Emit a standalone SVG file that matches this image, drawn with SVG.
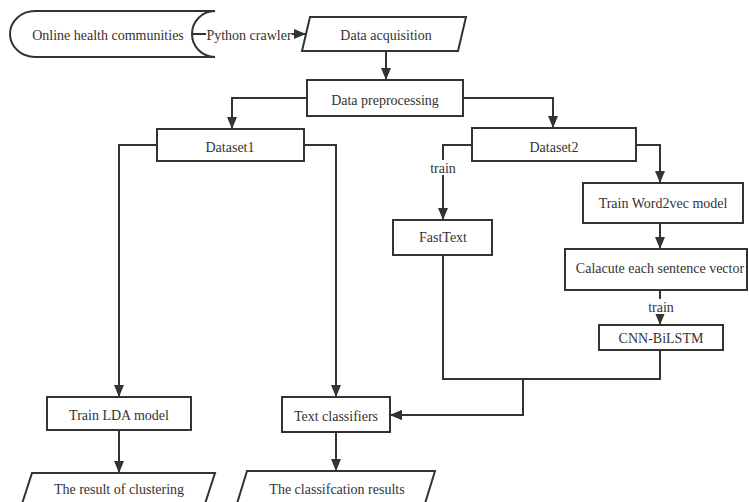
<svg xmlns="http://www.w3.org/2000/svg" width="749" height="502" viewBox="0 0 749 502">
<defs>
<style>
.n{fill:#fff;stroke:#333;stroke-width:2}
text{font-family:'Liberation Serif','Times New Roman',Times,serif;font-size:14px;fill:#333;text-anchor:middle}
.c{fill:none;stroke:#333;stroke-width:2}
.bg{fill:#fff}
</style>
<marker id="ah" viewBox="0 0 12 10" refX="12" refY="5" markerWidth="12" markerHeight="10" markerUnits="userSpaceOnUse" orient="auto">
<path d="M0,0 L12,5 L0,10 z" fill="#333"/>
</marker>
</defs>
<rect width="749" height="502" fill="#fff"/>
<g id="connectors">
<path class="c" d="M193,34 H306" marker-end="url(#ah)"/>
<path class="c" d="M386,51 V80" marker-end="url(#ah)"/>
<path class="c" d="M307,98 H232 V129" marker-end="url(#ah)"/>
<path class="c" d="M463,98 H553 V128" marker-end="url(#ah)"/>
<path class="c" d="M157,145 H119 V397" marker-end="url(#ah)"/>
<path class="c" d="M304,145 H336 V397" marker-end="url(#ah)"/>
<path class="c" d="M472,145 H443 V220" marker-end="url(#ah)"/>
<path class="c" d="M636,145 H660 V183" marker-end="url(#ah)"/>
<path class="c" d="M660,223 V249" marker-end="url(#ah)"/>
<path class="c" d="M660,290 V325" marker-end="url(#ah)"/>
<path class="c" d="M443,255 V379 H523 V415 H390" marker-end="url(#ah)"/>
<path class="c" d="M660,350 V379 H523 V415 H390" marker-end="url(#ah)"/>
<path class="c" d="M119,430 V473" marker-end="url(#ah)"/>
<path class="c" d="M336,432 V471" marker-end="url(#ah)"/>
<rect class="bg" x="206" y="26" width="86" height="17"/>
<text x="249" y="40">Python crawler</text>
<rect class="bg" x="428" y="160" width="30" height="15"/>
<text x="443" y="173">train</text>
<rect class="bg" x="646" y="299" width="30" height="15"/>
<text x="661" y="312">train</text>
</g>
<g id="online-health-communities">
<path class="n" d="M35,11 H215 A23,23 0 0 0 215,57 H35 A25,23 0 0 1 35,11 Z"/>
<text x="108" y="40">Online health communities</text>
</g>
<g id="data-acquisition">
<polygon class="n" points="310,17 466,17 458,51 302,51"/>
<text x="386" y="40">Data acquisition</text>
</g>
<g id="data-preprocessing">
<rect class="n" x="307" y="80" width="156" height="36"/>
<text x="385" y="105">Data preprocessing</text>
</g>
<g id="dataset1">
<rect class="n" x="157" y="129" width="147" height="32"/>
<text x="230" y="152">Dataset1</text>
</g>
<g id="dataset2">
<rect class="n" x="472" y="128" width="164" height="33"/>
<text x="554" y="152">Dataset2</text>
</g>
<g id="fasttext">
<rect class="n" x="393" y="220" width="99" height="35"/>
<text x="443" y="242">FastText</text>
</g>
<g id="train-word2vec">
<rect class="n" x="583" y="183" width="160" height="40"/>
<text x="663" y="208">Train Word2vec model</text>
</g>
<g id="calacute">
<rect class="n" x="565" y="249" width="182" height="41"/>
<text x="660" y="273">Calacute each sentence vector</text>
</g>
<g id="cnn-bilstm">
<rect class="n" x="599" y="325" width="124" height="25"/>
<text x="661" y="343">CNN-BiLSTM</text>
</g>
<g id="train-lda">
<rect class="n" x="47" y="397" width="144" height="33"/>
<text x="119" y="420">Train LDA model</text>
</g>
<g id="text-classifiers">
<rect class="n" x="282" y="397" width="108" height="35"/>
<text x="336" y="421">Text classifiers</text>
</g>
<g id="result-clustering">
<polygon class="n" points="32,473 215,473 203,510 20,510"/>
<text x="119" y="494">The result of clustering</text>
</g>
<g id="classification-results">
<polygon class="n" points="247,471 435,471 423,510 235,510"/>
<text x="337" y="494">The classifcation results</text>
</g>
</svg>
